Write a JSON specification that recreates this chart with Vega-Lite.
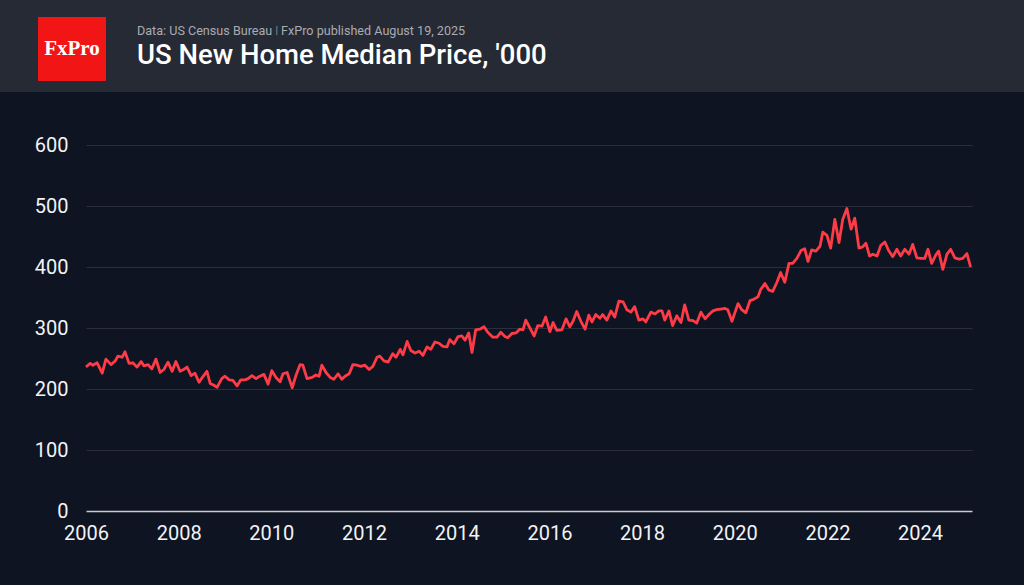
{
  "$schema": "https://vega.github.io/schema/vega-lite/v6.json",
  "width": 886,
  "height": 366,
  "autosize": {"type": "none"},
  "padding": {"left": 86, "top": 145, "right": 52, "bottom": 74},
  "background": "#0e1421",
  "datasets": {
    "brand": [{"name": "FxPro"}],
    "header": [
      {"kind": "source", "line": "Data: US Census Bureau  ǀ  FxPro published August 19, 2025"},
      {"kind": "title", "line": "US New Home Median Price, '000"}
    ],
    "prices": [
      {"year": 2006.00, "price": 236}, {"year": 2006.09, "price": 242}, {"year": 2006.15, "price": 239}, {"year": 2006.24, "price": 243},
      {"year": 2006.35, "price": 226}, {"year": 2006.43, "price": 249}, {"year": 2006.54, "price": 240}, {"year": 2006.63, "price": 246},
      {"year": 2006.69, "price": 254}, {"year": 2006.78, "price": 252}, {"year": 2006.84, "price": 261}, {"year": 2006.93, "price": 242},
      {"year": 2007.01, "price": 243}, {"year": 2007.10, "price": 236}, {"year": 2007.19, "price": 245}, {"year": 2007.25, "price": 238},
      {"year": 2007.34, "price": 240}, {"year": 2007.42, "price": 233}, {"year": 2007.51, "price": 249}, {"year": 2007.60, "price": 227},
      {"year": 2007.68, "price": 232}, {"year": 2007.77, "price": 244}, {"year": 2007.86, "price": 229}, {"year": 2007.94, "price": 245},
      {"year": 2008.03, "price": 229}, {"year": 2008.11, "price": 232}, {"year": 2008.18, "price": 236}, {"year": 2008.27, "price": 222},
      {"year": 2008.35, "price": 226}, {"year": 2008.44, "price": 211}, {"year": 2008.52, "price": 220}, {"year": 2008.61, "price": 229},
      {"year": 2008.68, "price": 209}, {"year": 2008.74, "price": 207}, {"year": 2008.83, "price": 203}, {"year": 2008.93, "price": 217},
      {"year": 2009.00, "price": 221}, {"year": 2009.09, "price": 215}, {"year": 2009.17, "price": 214}, {"year": 2009.26, "price": 205},
      {"year": 2009.34, "price": 215}, {"year": 2009.43, "price": 215}, {"year": 2009.50, "price": 217}, {"year": 2009.58, "price": 222},
      {"year": 2009.67, "price": 217}, {"year": 2009.75, "price": 221}, {"year": 2009.84, "price": 224}, {"year": 2009.93, "price": 208},
      {"year": 2010.01, "price": 230}, {"year": 2010.10, "price": 219}, {"year": 2010.19, "price": 212}, {"year": 2010.25, "price": 225},
      {"year": 2010.34, "price": 227}, {"year": 2010.45, "price": 202}, {"year": 2010.53, "price": 222}, {"year": 2010.62, "price": 240},
      {"year": 2010.68, "price": 239}, {"year": 2010.77, "price": 217}, {"year": 2010.88, "price": 219}, {"year": 2010.96, "price": 223},
      {"year": 2011.03, "price": 221}, {"year": 2011.09, "price": 239}, {"year": 2011.18, "price": 227}, {"year": 2011.27, "price": 219},
      {"year": 2011.35, "price": 216}, {"year": 2011.44, "price": 225}, {"year": 2011.52, "price": 216}, {"year": 2011.59, "price": 221},
      {"year": 2011.68, "price": 225}, {"year": 2011.76, "price": 240}, {"year": 2011.85, "price": 239}, {"year": 2011.93, "price": 237},
      {"year": 2012.02, "price": 239}, {"year": 2012.11, "price": 232}, {"year": 2012.19, "price": 237}, {"year": 2012.28, "price": 252},
      {"year": 2012.34, "price": 254}, {"year": 2012.43, "price": 246}, {"year": 2012.52, "price": 244}, {"year": 2012.62, "price": 258},
      {"year": 2012.69, "price": 252}, {"year": 2012.78, "price": 265}, {"year": 2012.84, "price": 256}, {"year": 2012.93, "price": 278},
      {"year": 2013.01, "price": 263}, {"year": 2013.10, "price": 259}, {"year": 2013.19, "price": 262}, {"year": 2013.27, "price": 255},
      {"year": 2013.36, "price": 269}, {"year": 2013.44, "price": 265}, {"year": 2013.53, "price": 277}, {"year": 2013.62, "price": 275},
      {"year": 2013.70, "price": 270}, {"year": 2013.79, "price": 269}, {"year": 2013.85, "price": 281}, {"year": 2013.94, "price": 274},
      {"year": 2014.03, "price": 286}, {"year": 2014.11, "price": 287}, {"year": 2014.18, "price": 280}, {"year": 2014.26, "price": 292},
      {"year": 2014.33, "price": 260}, {"year": 2014.41, "price": 297}, {"year": 2014.50, "price": 298}, {"year": 2014.59, "price": 302},
      {"year": 2014.67, "price": 293}, {"year": 2014.78, "price": 285}, {"year": 2014.87, "price": 285}, {"year": 2014.95, "price": 293},
      {"year": 2015.04, "price": 286}, {"year": 2015.10, "price": 284}, {"year": 2015.19, "price": 291}, {"year": 2015.28, "price": 292},
      {"year": 2015.36, "price": 298}, {"year": 2015.43, "price": 297}, {"year": 2015.49, "price": 313}, {"year": 2015.58, "price": 300},
      {"year": 2015.67, "price": 287}, {"year": 2015.75, "price": 304}, {"year": 2015.84, "price": 303}, {"year": 2015.92, "price": 318},
      {"year": 2016.01, "price": 294}, {"year": 2016.08, "price": 309}, {"year": 2016.16, "price": 296}, {"year": 2016.27, "price": 297},
      {"year": 2016.36, "price": 315}, {"year": 2016.44, "price": 302}, {"year": 2016.51, "price": 311}, {"year": 2016.59, "price": 327},
      {"year": 2016.68, "price": 311}, {"year": 2016.77, "price": 298}, {"year": 2016.85, "price": 321}, {"year": 2016.92, "price": 310},
      {"year": 2017.00, "price": 322}, {"year": 2017.09, "price": 316}, {"year": 2017.15, "price": 322}, {"year": 2017.24, "price": 313},
      {"year": 2017.33, "price": 328}, {"year": 2017.41, "price": 318}, {"year": 2017.50, "price": 344}, {"year": 2017.59, "price": 343},
      {"year": 2017.67, "price": 330}, {"year": 2017.76, "price": 326}, {"year": 2017.84, "price": 335}, {"year": 2017.93, "price": 313},
      {"year": 2018.02, "price": 315}, {"year": 2018.08, "price": 310}, {"year": 2018.19, "price": 326}, {"year": 2018.28, "price": 323},
      {"year": 2018.36, "price": 328}, {"year": 2018.43, "price": 328}, {"year": 2018.49, "price": 313}, {"year": 2018.58, "price": 328},
      {"year": 2018.66, "price": 304}, {"year": 2018.75, "price": 320}, {"year": 2018.84, "price": 309}, {"year": 2018.92, "price": 338},
      {"year": 2019.01, "price": 313}, {"year": 2019.10, "price": 312}, {"year": 2019.18, "price": 308}, {"year": 2019.27, "price": 326},
      {"year": 2019.36, "price": 315}, {"year": 2019.44, "price": 322}, {"year": 2019.53, "price": 328}, {"year": 2019.61, "price": 330},
      {"year": 2019.70, "price": 331}, {"year": 2019.79, "price": 332}, {"year": 2019.85, "price": 330}, {"year": 2019.94, "price": 311},
      {"year": 2020.07, "price": 340}, {"year": 2020.15, "price": 330}, {"year": 2020.24, "price": 325}, {"year": 2020.33, "price": 345},
      {"year": 2020.41, "price": 347}, {"year": 2020.50, "price": 351}, {"year": 2020.56, "price": 363}, {"year": 2020.65, "price": 373},
      {"year": 2020.74, "price": 362}, {"year": 2020.82, "price": 360}, {"year": 2020.91, "price": 375}, {"year": 2020.99, "price": 391},
      {"year": 2021.08, "price": 375}, {"year": 2021.17, "price": 406}, {"year": 2021.25, "price": 406}, {"year": 2021.34, "price": 414},
      {"year": 2021.43, "price": 427}, {"year": 2021.51, "price": 430}, {"year": 2021.58, "price": 409}, {"year": 2021.66, "price": 428},
      {"year": 2021.75, "price": 426}, {"year": 2021.84, "price": 434}, {"year": 2021.90, "price": 457}, {"year": 2021.99, "price": 452},
      {"year": 2022.07, "price": 431}, {"year": 2022.16, "price": 478}, {"year": 2022.25, "price": 440}, {"year": 2022.33, "price": 478},
      {"year": 2022.42, "price": 496}, {"year": 2022.51, "price": 462}, {"year": 2022.59, "price": 480}, {"year": 2022.68, "price": 431},
      {"year": 2022.76, "price": 433}, {"year": 2022.83, "price": 439}, {"year": 2022.91, "price": 418}, {"year": 2022.98, "price": 421},
      {"year": 2023.07, "price": 418}, {"year": 2023.15, "price": 435}, {"year": 2023.24, "price": 441}, {"year": 2023.32, "price": 427},
      {"year": 2023.41, "price": 417}, {"year": 2023.50, "price": 429}, {"year": 2023.58, "price": 418}, {"year": 2023.67, "price": 429},
      {"year": 2023.76, "price": 421}, {"year": 2023.84, "price": 437}, {"year": 2023.93, "price": 415}, {"year": 2024.02, "price": 414},
      {"year": 2024.10, "price": 414}, {"year": 2024.17, "price": 429}, {"year": 2024.25, "price": 406}, {"year": 2024.34, "price": 420},
      {"year": 2024.40, "price": 426}, {"year": 2024.49, "price": 396}, {"year": 2024.58, "price": 421}, {"year": 2024.66, "price": 429},
      {"year": 2024.75, "price": 415}, {"year": 2024.84, "price": 413}, {"year": 2024.92, "price": 414}, {"year": 2025.01, "price": 422},
      {"year": 2025.09, "price": 400}
    ]
  },
  "layer": [
    {
      "data": {"name": "brand"},
      "mark": {"type": "rect", "color": "#262a35", "clip": false},
      "encoding": {
        "x": {"datum": 2004.1, "type": "quantitative", "scale": {"domain": [2006, 2025.12], "nice": false, "zero": false}},
        "x2": {"datum": 2026.3},
        "y": {"datum": 686.9, "type": "quantitative", "scale": {"domain": [0, 600], "nice": false}},
        "y2": {"datum": 845}
      }
    },
    {
      "data": {"name": "brand"},
      "mark": {"type": "rect", "color": "#f21515", "clip": false},
      "encoding": {
        "x": {"datum": 2004.964, "type": "quantitative"},
        "x2": {"datum": 2006.432},
        "y": {"datum": 704.9, "type": "quantitative"},
        "y2": {"datum": 809.8}
      }
    },
    {
      "data": {"name": "brand"},
      "mark": {"type": "text", "color": "#ffffff", "font": "Liberation Serif", "fontSize": 21, "fontWeight": "bold", "align": "center", "baseline": "middle", "clip": false},
      "encoding": {
        "x": {"datum": 2005.698, "type": "quantitative"},
        "y": {"datum": 757.4, "type": "quantitative"},
        "text": {"field": "name"}
      }
    },
    {
      "data": {"name": "header"},
      "transform": [{"filter": "datum.kind === 'source'"}],
      "mark": {"type": "text", "color": "#a9acb3", "font": "Roboto", "fontSize": 12.6, "align": "left", "baseline": "alphabetic", "clip": false},
      "encoding": {
        "x": {"datum": 2007.10, "type": "quantitative"},
        "y": {"datum": 780.3, "type": "quantitative"},
        "text": {"field": "line"}
      }
    },
    {
      "data": {"name": "header"},
      "transform": [{"filter": "datum.kind === 'title'"}],
      "mark": {"type": "text", "color": "#ffffff", "font": "Roboto", "fontSize": 27.5, "fontWeight": 500, "align": "left", "baseline": "alphabetic", "clip": false},
      "encoding": {
        "x": {"datum": 2007.10, "type": "quantitative"},
        "y": {"datum": 732.8, "type": "quantitative"},
        "text": {"field": "line"}
      }
    },
    {
      "data": {"name": "prices"},
      "mark": {"type": "line", "color": "#ff3b48", "strokeWidth": 2.8, "strokeJoin": "round"},
      "encoding": {
        "x": {
          "field": "year", "type": "quantitative",
          "scale": {"domain": [2006, 2025.12], "nice": false, "zero": false},
          "axis": {"values": [2006, 2008, 2010, 2012, 2014, 2016, 2018, 2020, 2022, 2024], "format": "d", "title": null, "grid": false, "domain": false, "ticks": false, "labelPadding": 12, "labelFlush": false}
        },
        "y": {
          "field": "price", "type": "quantitative",
          "scale": {"domain": [0, 600], "nice": false},
          "axis": {
            "values": [0, 100, 200, 300, 400, 500, 600], "title": null, "domain": false, "ticks": false, "labelPadding": 18,
            "grid": true,
            "gridColor": {"condition": {"test": "datum.value === 0", "value": "#c9ccd2"}, "value": "#2a2f3b"},
            "gridWidth": {"condition": {"test": "datum.value === 0", "value": 1.6}, "value": 1}
          }
        }
      }
    }
  ],
  "config": {
    "view": {"stroke": null},
    "axis": {"labelFont": "Roboto", "labelFontSize": 20, "labelColor": "#f2f3f5"}
  }
}
